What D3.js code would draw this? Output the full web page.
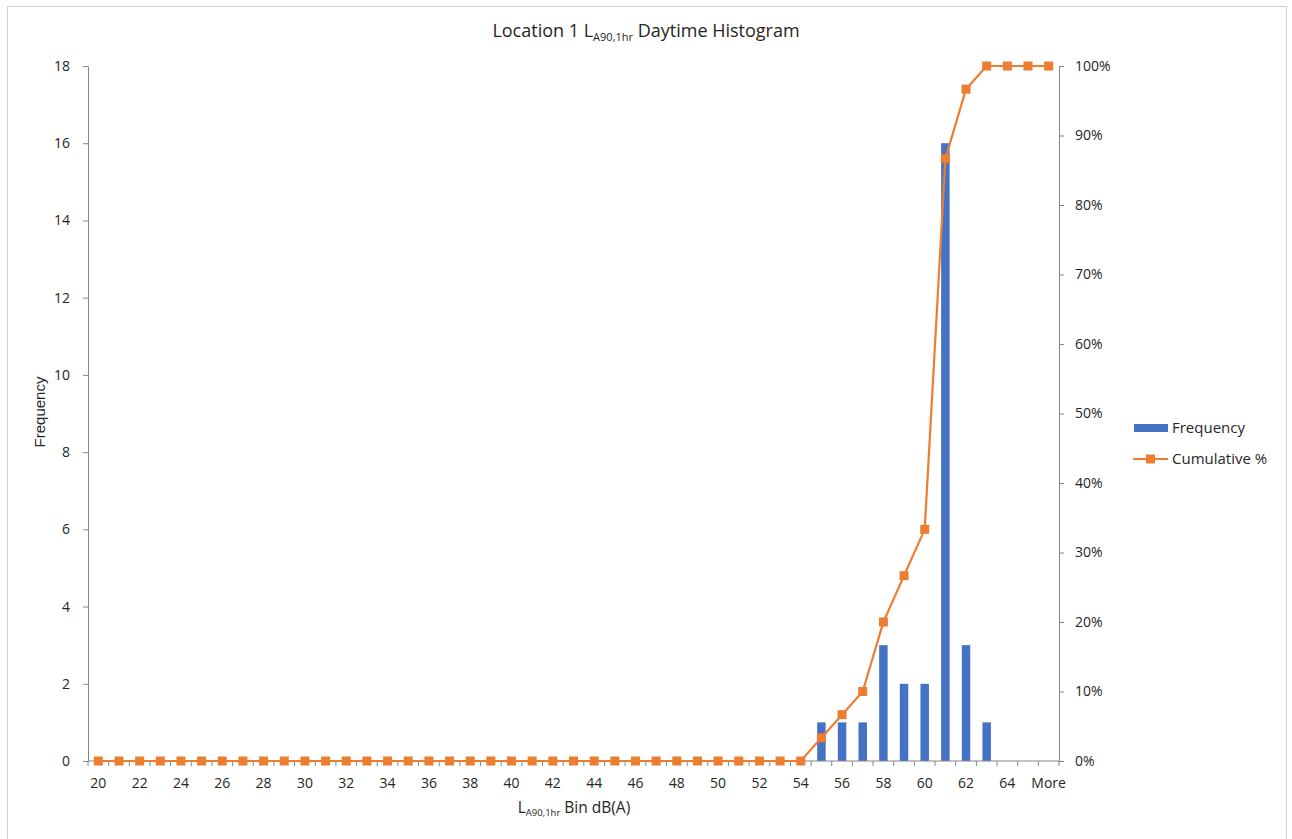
<html>
<head>
<meta charset="utf-8">
<script src="https://d3js.org/d3.v7.min.js"></script>
<style>
  body { margin: 0; background: #fff; }
  .chart text { font-family: "Open Sans", "Liberation Sans", sans-serif; fill: #262626; }
  .axis path, .axis line { stroke: #868686; }
</style>
</head>
<body>
<svg class="chart" width="1292" height="839"></svg>
<script>
// bins and histogram counts
var bins = ["20","21","22","23","24","25","26","27","28","29","30","31","32","33","34","35","36","37","38","39",
  "40","41","42","43","44","45","46","47","48","49","50","51","52","53","54","55","56","57","58","59",
  "60","61","62","63","64","65","More"];
var frequency = [0,0,0,0,0,0,0,0,0,0,0,0,0,0,0,0,0,0,0,0,
  0,0,0,0,0,0,0,0,0,0,0,0,0,0,0,1,1,1,3,2,
  2,16,3,1,0,0,0];
var cumulative = [0,0,0,0,0,0,0,0,0,0,0,0,0,0,0,0,0,0,0,0,
  0,0,0,0,0,0,0,0,0,0,0,0,0,0,0,3.33,6.67,10,20,26.67,
  33.33,86.67,96.67,100,100,100,100];
var freqTicks = [0,2,4,6,8,10,12,14,16,18];
var pctTicks = [0,10,20,30,40,50,60,70,80,90,100];
var xLabels = ["20","22","24","26","28","30","32","34","36","38","40","42","44","46","48","50","52","54","56","58","60","62","64","More"];

var plotL = 88, plotR = 1059, plotT = 66, plotB = 761;
var svg = d3.select("svg");

// outer chart border
svg.append("rect")
  .attr("x", 7.5).attr("y", 6.5).attr("width", 1279).attr("height", 840)
  .attr("fill", "none").attr("stroke", "#d0d0d0");

var xc = d3.scaleBand().domain(bins).range([plotL, plotR]);
var y = d3.scaleLinear().domain([0, 18]).range([plotB, plotT]);
var y2 = d3.scaleLinear().domain([0, 100]).range([plotB, plotT]);
var barW = xc.bandwidth() * 0.41;

// bars
svg.append("g").selectAll("rect")
  .data(bins)
  .enter().append("rect")
  .attr("x", function(d) { return xc(d) + (xc.bandwidth() - barW) / 2; })
  .attr("width", barW)
  .attr("y", function(d, i) { return y(frequency[i]); })
  .attr("height", function(d, i) { return plotB - y(frequency[i]); })
  .attr("fill", "#4472C4");

// left axis
svg.append("g").attr("class", "axis")
  .attr("transform", "translate(" + plotL + ",0)")
  .call(d3.axisLeft(y).tickValues(freqTicks).tickSize(5).tickSizeOuter(0).tickPadding(13))
  .selectAll("text").style("font-size", "14px");

// right axis
svg.append("g").attr("class", "axis")
  .attr("transform", "translate(" + plotR + ",0)")
  .call(d3.axisRight(y2).tickValues(pctTicks).tickSize(5).tickSizeOuter(0).tickPadding(11)
    .tickFormat(function(d) { return d + "%"; }))
  .selectAll("text").style("font-size", "14px");

// bottom axis: ticks between categories
var xAxisG = svg.append("g").attr("class", "axis")
  .attr("transform", "translate(0," + plotB + ")");
xAxisG.append("line").attr("x1", plotL).attr("x2", plotR)
  .attr("stroke", "#868686");
xAxisG.selectAll(".tk")
  .data(bins.concat(["end"]))
  .enter().append("line")
  .attr("x1", function(d, i) { return plotL + i * xc.bandwidth(); })
  .attr("x2", function(d, i) { return plotL + i * xc.bandwidth(); })
  .attr("y1", 0).attr("y2", 5)
  .attr("stroke", "#868686");
xAxisG.selectAll(".lbl")
  .data(xLabels)
  .enter().append("text")
  .attr("x", function(d, i) { return xc(bins[i * 2]) + xc.bandwidth() / 2; })
  .attr("y", 27)
  .attr("text-anchor", "middle")
  .style("font-size", "14px")
  .text(function(d) { return d; });

// cumulative line
var line = d3.line()
  .x(function(d, i) { return xc(bins[i]) + xc.bandwidth() / 2; })
  .y(function(d) { return y2(d); });
svg.append("path")
  .datum(cumulative)
  .attr("d", line)
  .attr("fill", "none")
  .attr("stroke", "#ED7D31")
  .attr("stroke-width", 2.2);
svg.append("g").selectAll("rect")
  .data(cumulative)
  .enter().append("rect")
  .attr("x", function(d, i) { return xc(bins[i]) + xc.bandwidth() / 2 - 4.5; })
  .attr("y", function(d) { return y2(d) - 4.5; })
  .attr("width", 9).attr("height", 9)
  .attr("fill", "#ED7D31");

// title
var title = svg.append("text")
  .attr("x", 646).attr("y", 37)
  .attr("text-anchor", "middle")
  .style("font-size", "18px");
title.append("tspan").text("Location 1 L");
title.append("tspan").attr("dy", 4).style("font-size", "11px").text("A90,1hr");
title.append("tspan").attr("dy", -4).text(" Daytime Histogram");

// y axis title
svg.append("text")
  .attr("transform", "translate(45,412) rotate(-90)")
  .attr("text-anchor", "middle")
  .style("font-family", "'Liberation Sans', Arial, sans-serif")
  .style("font-size", "15px")
  .text("Frequency");

// x axis title
var xt = svg.append("text")
  .attr("x", 574).attr("y", 813)
  .attr("text-anchor", "middle")
  .style("font-size", "15.5px");
xt.append("tspan").text("L");
xt.append("tspan").attr("dy", 3).style("font-size", "9.5px").text("A90,1hr");
xt.append("tspan").attr("dy", -3).text(" Bin dB(A)");

// legend
var lg = svg.append("g");
lg.append("rect").attr("x", 1134).attr("y", 424).attr("width", 34).attr("height", 8).attr("fill", "#4472C4");
lg.append("text").attr("x", 1172).attr("y", 433).style("font-size", "15px").text("Frequency");
lg.append("line").attr("x1", 1133).attr("x2", 1168).attr("y1", 459).attr("y2", 459)
  .attr("stroke", "#ED7D31").attr("stroke-width", 2.2);
lg.append("rect").attr("x", 1146).attr("y", 454.5).attr("width", 9).attr("height", 9).attr("fill", "#ED7D31");
lg.append("text").attr("x", 1172).attr("y", 464).style("font-size", "15px").text("Cumulative %");
</script>
</body>
</html>
